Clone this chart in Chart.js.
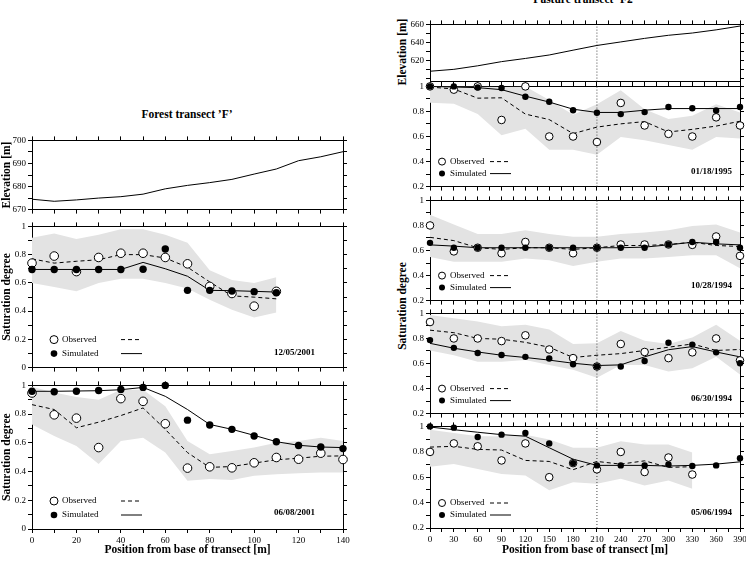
<!DOCTYPE html>
<html>
<head>
<meta charset="utf-8">
<script src="https://cdn.jsdelivr.net/npm/chart.js@4.4.0/dist/chart.umd.min.js"></script>
<style>
body { margin:0; background:#fff; width:746px; height:567px; overflow:hidden; position:relative; font-family:'Liberation Serif', serif; color:#000; }
canvas { position:absolute; }
.ttl { position:absolute; font-weight:bold; font-size:11.5px; white-space:nowrap; transform:translate(-50%,-50%); line-height:13px; }
.rot { transform:translate(-50%,-50%) rotate(-90deg); }
</style>
</head>
<body>
<div class="ttl" style="left:187px; top:114px">Forest transect ’F’</div>
<div class="ttl" style="left:585px; top:-1px">Pasture transect ’F2’</div>
<div class="ttl rot" style="left:402px; top:52px">Elevation [m]</div>
<div class="ttl rot" style="left:402px; top:306px">Saturation degree</div>
<script>
// ---- forest transect 'F' ----
const forestX = [0, 10, 20, 30, 40, 50, 60, 70, 80, 90, 100, 110, 120, 130, 140];
const forestElev = [674.5, 673.6, 674.2, 675.0, 675.6, 676.7, 679.0, 680.5, 681.7, 683.1, 685.4, 687.6, 691.2, 692.9, 695.1];

// 12/05/2001 (only 0-110 m)
const obs1205 = [0.74, 0.79, 0.68, 0.78, 0.81, 0.81, 0.78, 0.735, 0.575, 0.525, 0.435, 0.54];
const sim1205 = [0.695, 0.695, 0.695, 0.695, 0.695, 0.697, 0.84, 0.547, 0.547, 0.543, 0.538, 0.53];
const simLine1205 = [0.695, 0.695, 0.695, 0.695, 0.695, 0.745, 0.70, 0.647, 0.547, 0.545, 0.54, 0.535];
const obsLine1205 = [0.77, 0.74, 0.753, 0.764, 0.80, 0.80, 0.776, 0.711, 0.607, 0.508, 0.499, 0.487];
const bandHi1205 = [0.92, 0.95, 0.91, 0.94, 0.98, 0.98, 0.94, 0.885, 0.69, 0.62, 0.60, 0.64];
const bandLo1205 = [0.60, 0.57, 0.54, 0.60, 0.63, 0.63, 0.60, 0.56, 0.48, 0.41, 0.355, 0.39];

// 06/08/2001
const obs0608 = [0.947, 0.795, 0.772, 0.567, 0.908, 0.889, 0.733, 0.424, 0.433, 0.426, 0.461, 0.498, 0.486, 0.528, 0.484];
const sim0608 = [0.959, 0.956, 0.959, 0.965, 0.972, 0.986, 1.0, 0.758, 0.724, 0.694, 0.648, 0.608, 0.581, 0.571, 0.56];
const simLine0608 = [0.959, 0.959, 0.961, 0.963, 0.97, 0.986, 0.924, 0.832, 0.728, 0.694, 0.652, 0.608, 0.583, 0.571, 0.567];
const obsLine0608 = [0.866, 0.832, 0.705, 0.744, 0.79, 0.843, 0.694, 0.532, 0.429, 0.435, 0.459, 0.482, 0.493, 0.507, 0.509];
const bandHi0608 = [0.99, 0.95, 0.92, 0.90, 0.97, 0.97, 0.855, 0.613, 0.521, 0.544, 0.567, 0.601, 0.613, 0.636, 0.613];
const bandLo0608 = [0.728, 0.647, 0.578, 0.452, 0.613, 0.636, 0.532, 0.336, 0.348, 0.341, 0.371, 0.382, 0.389, 0.394, 0.394];

// ---- pasture transect 'F2' ----
const pastureX = [0, 30, 60, 90, 120, 150, 180, 210, 240, 270, 300, 330, 360, 390];
const pastureElev = [608.4, 610.5, 614.4, 619.0, 622.5, 626.3, 631.6, 636.8, 640.7, 644.6, 648.0, 650.5, 654.0, 658.2];
const divideX = 210;

// 01/18/1995
const obs0118 = [1.0, 0.974, 1.0, 0.732, 1.0, 0.60, 0.60, 0.556, 0.868, 0.688, 0.621, 0.60, 0.753, 0.688];
const sim0118 = [1.0, 1.0, 0.992, 0.987, 0.917, 0.878, 0.81, 0.79, 0.779, 0.795, 0.836, 0.826, 0.808, 0.836];
const simLine0118 = [1.0, 0.995, 0.99, 0.974, 0.922, 0.875, 0.818, 0.792, 0.792, 0.81, 0.823, 0.823, 0.823, 0.823];
const obsLine0118 = [0.995, 0.979, 0.906, 0.909, 0.779, 0.735, 0.623, 0.675, 0.701, 0.719, 0.636, 0.657, 0.683, 0.722];
const bandHi0118 = [1.0, 1.0, 1.0, 0.995, 1.0, 0.891, 0.774, 0.857, 0.969, 0.818, 0.74, 0.766, 0.857, 0.792];
const bandLo0118 = [0.87, 0.862, 0.779, 0.61, 0.662, 0.494, 0.494, 0.455, 0.597, 0.571, 0.532, 0.494, 0.597, 0.584];

// 10/28/1994
const obs1028 = [0.80, 0.593, 0.622, 0.578, 0.668, 0.622, 0.578, 0.622, 0.648, 0.648, 0.648, 0.645, 0.712, 0.557];
const sim1028 = [0.661, 0.622, 0.622, 0.622, 0.622, 0.622, 0.622, 0.622, 0.622, 0.622, 0.648, 0.668, 0.668, 0.622];
const simLine1028 = [0.645, 0.635, 0.622, 0.622, 0.622, 0.622, 0.622, 0.622, 0.622, 0.627, 0.645, 0.666, 0.653, 0.645];
const obsLine1028 = [0.705, 0.679, 0.622, 0.609, 0.622, 0.622, 0.609, 0.622, 0.64, 0.64, 0.648, 0.666, 0.64, 0.632];
const bandHi1028 = [0.886, 0.808, 0.731, 0.731, 0.762, 0.731, 0.71, 0.71, 0.731, 0.744, 0.762, 0.795, 0.808, 0.744];
const bandLo1028 = [0.549, 0.51, 0.51, 0.51, 0.536, 0.523, 0.477, 0.51, 0.536, 0.536, 0.549, 0.562, 0.562, 0.459];

// 06/30/1994
const obs0630 = [0.931, 0.80, 0.80, 0.779, 0.825, 0.712, 0.643, 0.576, 0.756, 0.692, 0.643, 0.689, 0.80, 0.625];
const sim0630 = [0.787, 0.725, 0.684, 0.668, 0.653, 0.64, 0.594, 0.576, 0.576, 0.62, 0.766, 0.751, 0.689, 0.602];
const simLine0630 = [0.761, 0.722, 0.692, 0.666, 0.648, 0.627, 0.602, 0.584, 0.589, 0.653, 0.71, 0.735, 0.692, 0.653];
const obsLine0630 = [0.866, 0.846, 0.80, 0.794, 0.769, 0.73, 0.648, 0.666, 0.679, 0.704, 0.73, 0.756, 0.704, 0.712];
const bandHi0630 = [0.987, 0.961, 0.936, 0.897, 0.91, 0.871, 0.756, 0.761, 0.859, 0.781, 0.756, 0.807, 0.91, 0.781];
const bandLo0630 = [0.704, 0.666, 0.614, 0.614, 0.627, 0.589, 0.55, 0.486, 0.589, 0.589, 0.537, 0.563, 0.653, 0.512];

// 05/06/1994 (observations only 0-330 m)
const obs0506 = [0.799, 0.866, 0.843, 0.732, 0.866, 0.60, 0.711, 0.662, 0.799, 0.641, 0.755, 0.621];
const sim0506 = [1.0, 0.99, 0.917, 0.935, 0.948, 0.866, 0.711, 0.693, 0.693, 0.693, 0.70, 0.688, 0.693, 0.75];
const simLine0506 = [0.995, 0.974, 0.954, 0.935, 0.923, 0.832, 0.742, 0.693, 0.693, 0.693, 0.688, 0.693, 0.703, 0.721];
const obsLine0506 = [0.837, 0.843, 0.819, 0.814, 0.732, 0.724, 0.659, 0.724, 0.703, 0.729, 0.677, 0.683];
const bandHi0506 = [0.974, 0.948, 0.923, 0.923, 0.935, 0.897, 0.832, 0.832, 0.884, 0.858, 0.858, 0.794];
const bandLo0506 = [0.683, 0.703, 0.665, 0.626, 0.613, 0.497, 0.561, 0.548, 0.587, 0.535, 0.574, 0.51];


Chart.defaults.font.family = "'Liberation Serif', 'Times New Roman', serif";
Chart.defaults.color = '#000';

const tickFont = { size: 9 };
const axisFont = { size: 11.5, weight: 'bold' };
const bandColor = '#e3e3e3';

function pts(xs, ys) {
    return ys.map((y, i) => ({ x: xs[i], y: y }));
}

function steps(a, b, step) {
    let out = [];
    for (let v = a; v <= b + 1e-9; v += step) out.push(Math.round(v * 1000) / 1000);
    return out;
}

function satLabel(v) {
    let k = Math.round(v * 10);
    if (k % 2) return '';
    if (k === 10) return '1';
    if (k === 0) return '0';
    return (k / 10).toFixed(1);
}

function axis(pos, min, max, tickVals, size, labelFn, title) {
    let a = {
        type: 'linear', position: pos, min: min, max: max,
        afterBuildTicks: (s) => { s.ticks = tickVals.map(v => ({ value: v })); },
        afterFit: (s) => {
            if (pos === 'left' || pos === 'right') s.width = size;
            else s.height = size;
        },
        grid: { drawOnChartArea: false, drawTicks: true, tickLength: 4, tickColor: '#000', tickWidth: 1 },
        border: { display: true, color: '#000', width: 1 },
        ticks: { autoSkip: false, maxRotation: 0, padding: 2, font: tickFont, callback: labelFn || (() => '') }
    };
    if (title) a.title = { display: true, text: title, font: axisFont, padding: 0 };
    return a;
}

// draws the little Observed / Simulated key and the date inside the plot
const keyPlugin = {
    id: 'key',
    afterDraw(chart, args, o) {
        if (!o || !o.date) return;
        const ctx = chart.ctx;
        const a = chart.chartArea;
        const y1 = a.bottom - o.dy1, y2 = a.bottom - o.dy2;
        ctx.save();
        ctx.lineWidth = 1;
        ctx.strokeStyle = '#000';
        // open circle
        ctx.beginPath();
        ctx.arc(a.left + o.dx, y1, o.rObs, 0, Math.PI * 2);
        ctx.fillStyle = '#fff';
        ctx.fill();
        ctx.stroke();
        // filled circle
        ctx.beginPath();
        ctx.arc(a.left + o.dx, y2, o.rSim, 0, Math.PI * 2);
        ctx.fillStyle = '#000';
        ctx.fill();
        // line samples
        ctx.beginPath();
        ctx.setLineDash([4, 3]);
        ctx.moveTo(a.left + o.lx1, y1);
        ctx.lineTo(a.left + o.lx2, y1);
        ctx.stroke();
        ctx.beginPath();
        ctx.setLineDash([]);
        ctx.moveTo(a.left + o.lx1, y2);
        ctx.lineTo(a.left + o.lx2, y2);
        ctx.stroke();
        // text
        ctx.fillStyle = '#000';
        ctx.textBaseline = 'middle';
        ctx.textAlign = 'left';
        ctx.font = "9px 'Liberation Serif'";
        ctx.fillText('Observed', a.left + o.tx, y1);
        ctx.fillText('Simulated', a.left + o.tx, y2);
        ctx.textAlign = 'right';
        ctx.font = "bold 9px 'Liberation Serif'";
        ctx.fillText(o.date, a.right - o.dateDx, a.bottom - o.dateDy);
        ctx.restore();
    }
};

function makePanel(cfg) {
    const [l, t, r, b] = cfg.area;
    const [pl, pt, pr, pb] = cfg.pad;
    const w = r - l + pl + pr, h = b - t + pt + pb;
    const c = document.createElement('canvas');
    c.width = w;
    c.height = h;
    c.style.left = (l - pl) + 'px';
    c.style.top = (t - pt) + 'px';
    c.style.width = w + 'px';
    c.style.height = h + 'px';
    document.body.appendChild(c);

    new Chart(c, {
        type: 'line',
        data: { datasets: cfg.datasets },
        options: {
            responsive: false,
            animation: false,
            devicePixelRatio: 1,
            layout: { padding: 0 },
            plugins: { legend: { display: false }, tooltip: { enabled: false }, key: cfg.key || {} },
            scales: {
                x: axis('bottom', cfg.x.min, cfg.x.max, cfg.x.ticks, pb, cfg.x.label, cfg.x.title),
                x2: axis('top', cfg.x.min, cfg.x.max, cfg.x.ticks, pt),
                y: axis('left', cfg.y.min, cfg.y.max, cfg.y.ticks, pl, cfg.y.label, cfg.y.title),
                y2: axis('right', cfg.y.min, cfg.y.max, cfg.y.ticks, pr)
            }
        },
        plugins: [keyPlugin]
    });
}

function satDatasets(xs, obs, sim, simLine, obsLine, hi, lo, rObs, rSim, yMin, yMax, divider) {
    let ds = [
        { data: pts(xs, sim), showLine: false, pointRadius: rSim, pointBackgroundColor: '#000', pointBorderColor: '#000', pointBorderWidth: 0, clip: false, order: 0 },
        { data: pts(xs, obs), showLine: false, pointRadius: rObs, pointBackgroundColor: '#fff', pointBorderColor: '#000', pointBorderWidth: 1, clip: false, order: 1 },
        { data: pts(xs, simLine), borderColor: '#000', borderWidth: 1, pointRadius: 0, order: 2 },
        { data: pts(xs, obsLine), borderColor: '#000', borderWidth: 1, borderDash: [4, 3], pointRadius: 0, order: 3 },
        { data: pts(xs, hi), borderWidth: 0, pointRadius: 0, fill: '+1', backgroundColor: bandColor, order: 4 },
        { data: pts(xs, lo), borderWidth: 0, pointRadius: 0, fill: false, order: 5 }
    ];
    if (divider !== undefined) {
        ds.push({ data: [{ x: divider, y: yMin }, { x: divider, y: yMax }], borderColor: '#444', borderWidth: 1, borderDash: [1, 2], pointRadius: 0, order: 3.5 });
    }
    return ds;
}

// ---------- Forest transect 'F' ----------
const forestXAxis = { min: 0, max: 140, ticks: steps(0, 140, 10) };
const satYAxis = { min: 0, max: 1, ticks: steps(0, 1, 0.1), label: satLabel, title: 'Saturation degree' };

makePanel({
    area: [32, 139, 343, 211], pad: [32, 6, 12, 6],
    x: forestXAxis,
    y: { min: 670, max: 700, ticks: steps(670, 700, 5), label: v => (v % 10 === 0 ? String(v) : ''), title: 'Elevation [m]' },
    datasets: [{ data: pts(forestX, forestElev), borderColor: '#000', borderWidth: 1, pointRadius: 0 }]
});

const forestKey = { dx: 22, dy1: 28, dy2: 14, rObs: 4, rSim: 3.3, tx: 30, lx1: 89, lx2: 110, dateDx: 28 };

makePanel({
    area: [32, 225, 343, 369], pad: [32, 6, 12, 6],
    x: forestXAxis, y: satYAxis,
    key: Object.assign({ date: '12/05/2001', dateDy: 15 }, forestKey),
    datasets: satDatasets(forestX.slice(0, 12), obs1205, sim1205, simLine1205, obsLine1205, bandHi1205, bandLo1205, 4.3, 3.7)
});

makePanel({
    area: [32, 384, 343, 529], pad: [32, 6, 12, 28],
    x: Object.assign({ label: v => (v % 20 === 0 ? String(v) : ''), title: 'Position from base of transect [m]' }, forestXAxis),
    y: satYAxis,
    key: Object.assign({ date: '06/08/2001', dateDy: 16 }, forestKey),
    datasets: satDatasets(forestX, obs0608, sim0608, simLine0608, obsLine0608, bandHi0608, bandLo0608, 4.3, 3.7)
});

// ---------- Pasture transect 'F2' ----------
const pastureXAxis = { min: 0, max: 390, ticks: steps(0, 390, 15) };
const pastureYAxis = { min: 0.2, max: 1, ticks: steps(0.2, 1, 0.1), label: satLabel };
const pastureKey = { dx: 12, dy1: 25, dy2: 13, rObs: 3.5, rSim: 3, tx: 20, lx1: 60, lx2: 81, dateDx: 8, dateDy: 15 };

makePanel({
    area: [430, 23, 740, 83], pad: [34, 6, 12, 6],
    x: pastureXAxis,
    y: { min: 597, max: 660, ticks: steps(600, 660, 10), label: v => (v >= 620 && v % 20 === 0 ? String(v) : '') },
    datasets: [
        { data: pts(pastureX, pastureElev), borderColor: '#000', borderWidth: 1, pointRadius: 0 },
        { data: [{ x: divideX, y: 597 }, { x: divideX, y: 660 }], borderColor: '#444', borderWidth: 1, borderDash: [1, 2], pointRadius: 0 }
    ]
});

const pastureDates = ['01/18/1995', '10/28/1994', '06/30/1994', '05/06/1994'];
const pastureAreas = [[430, 85, 740, 188], [430, 199, 740, 302], [430, 312, 740, 415], [430, 425, 740, 528]];
const pastureSeries = [
    [pastureX, obs0118, sim0118, simLine0118, obsLine0118, bandHi0118, bandLo0118],
    [pastureX, obs1028, sim1028, simLine1028, obsLine1028, bandHi1028, bandLo1028],
    [pastureX, obs0630, sim0630, simLine0630, obsLine0630, bandHi0630, bandLo0630],
    [pastureX, obs0506, sim0506, simLine0506, obsLine0506, bandHi0506, bandLo0506]
];

pastureSeries.forEach((s, i) => {
    const last = i === pastureSeries.length - 1;
    let xAx = pastureXAxis;
    if (last) xAx = Object.assign({ label: v => (v % 30 === 0 ? String(v) : ''), title: 'Position from base of transect [m]' }, pastureXAxis);
    makePanel({
        area: pastureAreas[i], pad: [34, 6, 12, last ? 29 : 6],
        x: xAx, y: pastureYAxis,
        key: Object.assign({ date: pastureDates[i] }, pastureKey),
        datasets: satDatasets(s[0], s[1], s[2], s[3], s[4], s[5], s[6], 3.8, 3.2, 0.2, 1, divideX)
    });
});
</script>
</body>
</html>
